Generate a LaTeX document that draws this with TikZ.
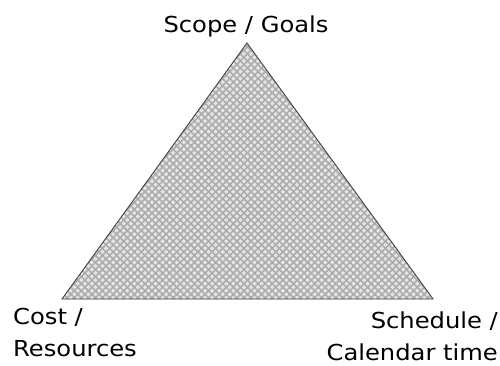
\documentclass[tikz,border=0pt]{standalone}
\usepackage{fontspec}
\setmainfont[FakeStretch=1.1]{DejaVu Sans}
\usetikzlibrary{patterns.meta}
\begin{document}
\begin{tikzpicture}[x=1pt,y=1pt,
  lbl/.style={inner sep=0pt,font=\fontsize{22}{32}\selectfont},
  tri/.style={draw=black!75,line width=0.9pt,line join=miter}]
\useasboundingbox (0,0) rectangle (500,365);
\coordinate (top) at (247,322);
\coordinate (bl) at (62,66);
\coordinate (br) at (433,66);
\fill[gray!20] (top) -- (bl) -- (br) -- cycle;
\fill[pattern={Hatch[angle=45,distance=5pt,line width=1.6pt]},pattern color=gray!65] (top) -- (bl) -- (br) -- cycle;
\draw[tri] (top) -- (bl) -- (br) -- cycle;
\node[lbl,anchor=base] (scope) at (246,332) {Scope / Goals};
\node[lbl,anchor=north west,align=left] (cost) at (13,57) {Cost /\\Resources};
\node[lbl,anchor=north east,align=right] (sched) at (498,53) {Schedule /\\Calendar time};
\end{tikzpicture}
\end{document}
